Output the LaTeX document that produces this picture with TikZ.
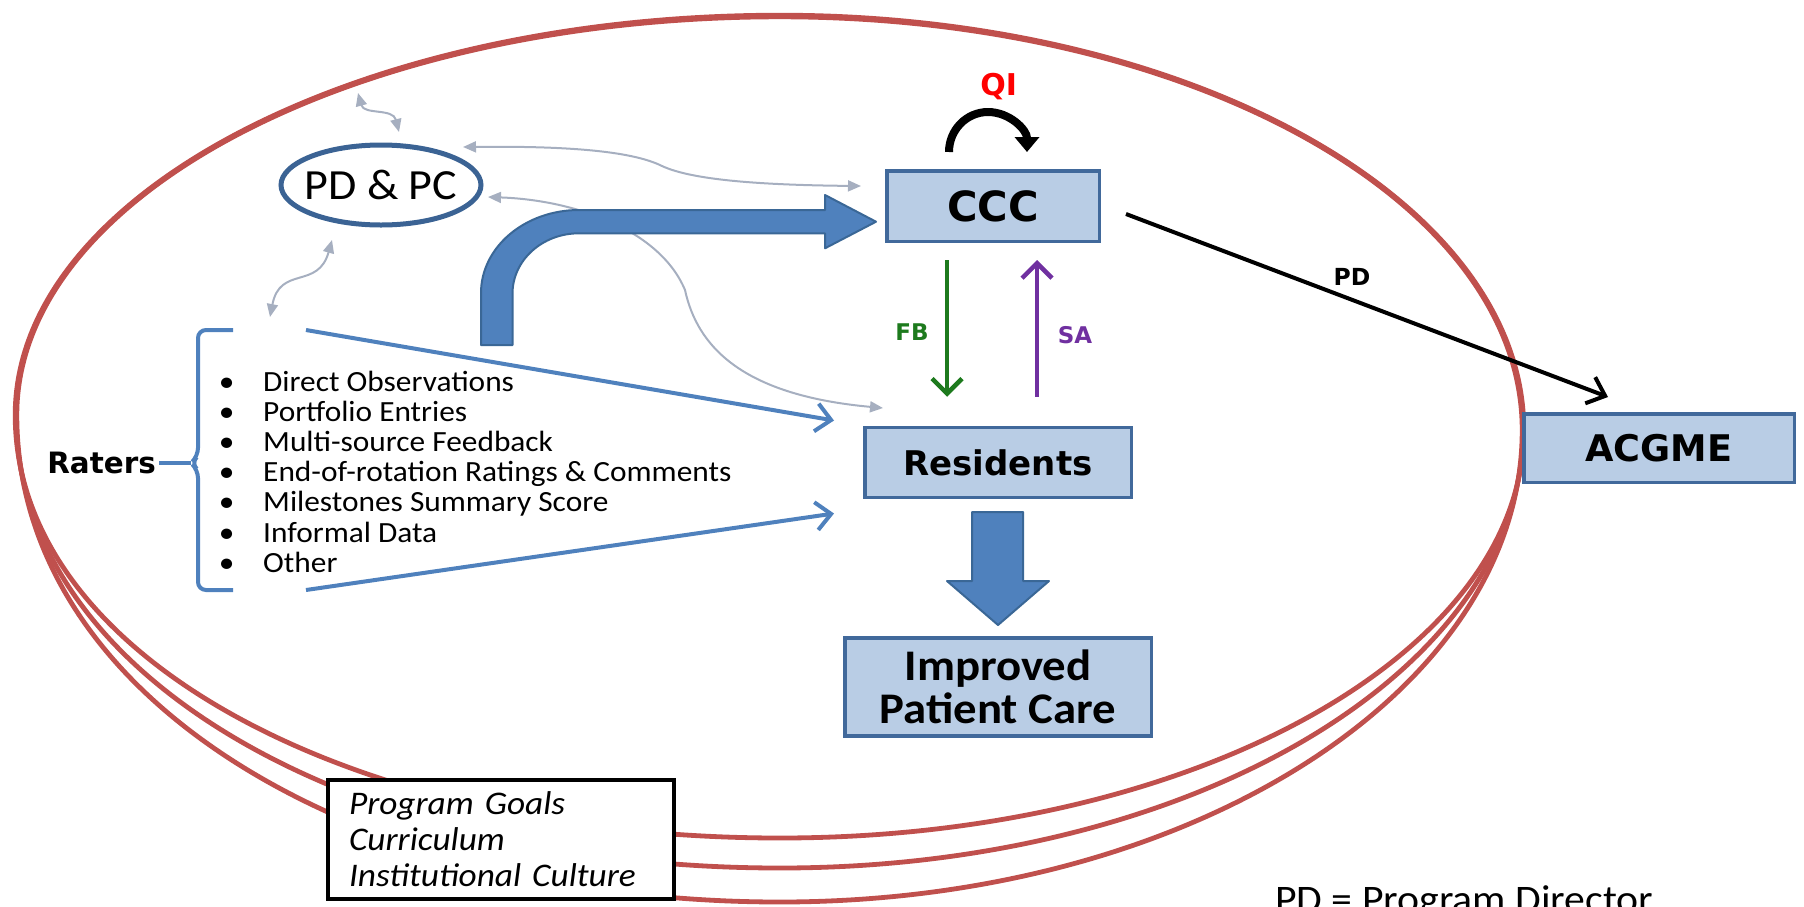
\documentclass[tikz,border=0pt]{standalone}
\usepackage{fontspec}
\setmainfont{Carlito}[FakeStretch=1.07]
\newfontfamily\vfont{DejaVu Sans}
\usetikzlibrary{arrows.meta,shapes.geometric,calc}
\definecolor{ellred}{HTML}{C0504D}
\definecolor{boxfill}{HTML}{B9CDE5}
\definecolor{boxline}{HTML}{41699B}
\definecolor{arrblue}{HTML}{4F81BD}
\definecolor{arrline}{HTML}{3A6796}
\definecolor{pdline}{HTML}{3B6394}
\definecolor{grayc}{HTML}{A6AFC0}
\definecolor{fbgreen}{HTML}{1D7A1D}
\definecolor{sapurple}{HTML}{7030A0}
\definecolor{qired}{HTML}{FF0000}
\begin{document}
\begin{tikzpicture}[x=1pt,y=-1pt,
  redell/.style={draw=ellred,line width=4.8pt},
  bluebox/.style={rectangle,draw=boxline,fill=boxfill,line width=3.5pt,inner sep=0pt,align=center},
  bigarr/.style={fill=arrblue,draw=arrline,line width=2pt,line join=round},
  grayarr/.style={draw=grayc,line width=2pt,{Triangle[length=13pt,width=11pt]}-{Triangle[length=13pt,width=11pt]}},
  thinblue/.style={draw=arrblue,line width=4pt,-{Straight Barb[length=15pt,width=28pt]}},
  brk/.style={draw=arrblue,line width=4pt,rounded corners=8pt},
  bigbold/.style={font={\vfont\bfseries\fontsize{#1}{#1}\selectfont}},
  fbarr/.style={draw=fbgreen,line width=4.5pt,-{Straight Barb[length=15pt,width=30pt]}},
  saarr/.style={draw=sapurple,line width=4.5pt,-{Straight Barb[length=15pt,width=30pt]}},
  pdarr/.style={draw=black,line width=4pt,-{Straight Barb[length=16pt,width=28pt]}},
  qiarr/.style={draw=black,line width=8pt,-{Triangle[length=15pt,width=24pt]}},
  listfont/.style={font={\fontsize{29.3}{30}\selectfont}}
]
\useasboundingbox (0,0) rectangle (1804,906);
\clip (0,0) rectangle (1804,906);

% three red ellipses
\foreach \ybot/\yr/\yl/\dd in {838/655.3/660/-0.8, 868/671.9/680/0, 902/690.7/700/0.8}{
  \draw[redell] ({16+\dd},415) .. controls ({16+\dd},194.6) and (358,{16+\dd}) .. (780,{16+\dd})
    .. controls (1190.4,{16+\dd}) and ({1523-\dd},201.3) .. ({1523-\dd},430)
    .. controls ({1523-\dd},\yr) and (1190.4,\ybot) .. (780,\ybot)
    .. controls (358,\ybot) and ({16+\dd},\yl) .. cycle;
}

% program goals box
\node[draw=black, line width=4pt, fill=white, inner xsep=21.4pt, inner ysep=0pt,
      text width=304pt, minimum height=119pt, align=left,
      font={\itshape\fontsize{33}{36}\selectfont}] (goals) at (501,839.3)
      {Program Goals\\Curriculum\\Institutional Culture};

% PD & PC
\node[ellipse, draw=pdline, line width=5pt, fill=white, minimum width=200pt,
      minimum height=80pt, inner sep=0pt, font={\fontsize{43}{43}\selectfont}] (pdpc) at (381,185)
      {\makebox[0pt]{PD \& PC}};

% boxes
\node[bluebox, minimum width=212.5pt, minimum height=70.5pt, bigbold=41.6] (ccc) at (993,206) {CCC};
\node[bluebox, minimum width=266.5pt, minimum height=70pt, bigbold=34] (res) at (998,462.5) {Residents};
\node[bluebox, minimum width=306.5pt, minimum height=98pt,
      font={\bfseries\fontsize{43.7}{43.3}\selectfont}] (ipc) at (998,687) {Improved\\Patient Care};
\node[bluebox, minimum width=270.5pt, minimum height=68.5pt, bigbold=36.7] (acgme) at (1659,448) {ACGME};

% gray connectors
\coordinate (g1a) at (358,93); \coordinate (g1b) at (399,132);
\draw[grayarr] (g1a) .. controls (364,115) and (393,108) .. (g1b);
\coordinate (g2a) at (463,147); \coordinate (g2b) at (861,186);
\draw[grayarr] (g2a) .. controls (560,146) and (630,150) .. (662,166) .. controls (692,180) and (760,185) .. (g2b);
\coordinate (g3a) at (488,197); \coordinate (g3b) at (883,408);
\draw[grayarr] (g3a) .. controls (575,200) and (660,230) .. (685,290) .. controls (697,345) and (740,395) .. (g3b);
\coordinate (g4a) at (332,240); \coordinate (g4b) at (270,317);
\draw[grayarr] (g4a) .. controls (318,290) and (280,265) .. (g4b);

% big bent arrow
\filldraw[bigarr] (481,345) -- (481,293) arc[start angle=180,end angle=270,x radius=98,y radius=83]
  -- (825,210) -- (825,195) -- (876,221.7) -- (825,248.3) -- (825,233.3) -- (579,233.3)
  arc[start angle=270,end angle=180,x radius=66.5,y radius=60.3] -- (512.5,345) -- cycle;

% down arrow
\filldraw[bigarr] (972,512) -- (1023,512) -- (1023,581) -- (1049,581) -- (998,625) -- (947,581) -- (972,581) -- cycle;

% QI loop
\node[bigbold=30, text=qired, inner sep=0pt] (qi) at (998.6,86.7) {QI};
\draw[qiarr] ($(ccc.north)+(-44,-17)$) arc[start angle=180,end angle=360,x radius=39,y radius=40];

% FB / SA
\draw[fbarr] ($(ccc.south)+(-46,17)$) -- ($(res.north)+(-51,-29)$);
\node[bigbold=23, text=fbgreen, inner sep=0pt] (fb) at (912,332) {FB};
\draw[saarr] ($(res.north)+(39,-29)$) -- ($(ccc.south)+(44,17)$);
\node[bigbold=23, text=sapurple, inner sep=0pt] (sa) at (1075,335) {SA};

% PD to ACGME
\draw[pdarr] ($(ccc.east)+(25,8)$) -- ($(acgme.north west)+(86,-15)$);
\node[bigbold=23.5, inner sep=0pt] (pdlab) at (1352,277) {PD};

% raters and bracket
\node[bigbold=29.4, anchor=east, inner sep=0pt] (raters) at (156,463) {Raters};
\coordinate (nib) at (191,463);
\draw[brk] (233,330) -- (198,330) -- (198,456) -- (nib) -- (198,470) -- (198,590) -- (233,590);
\draw[draw=arrblue, line width=4pt] ([xshift=3pt]raters.east) -- (nib);

\foreach \t [count=\i] in {Direct Observations, Portfolio Entries, Multi-source Feedback,
   End-of-rotation Ratings \& Comments, Milestones Summary Score, Informal Data, Other}{
  \node[listfont, anchor=base west, inner sep=0pt] (item\i) at (263,{391+30.2*(\i-1)}) {\t};
  \node[listfont, anchor=base, inner sep=0pt] (dot\i) at (226.6,{391+30.2*(\i-1)}) {\textbullet};
}

% thin blue arrows
\coordinate (t1) at (306,330); \coordinate (t2) at (306,590);
\draw[thinblue] (t1) -- ($(res.west)+(-29,-42)$);
\draw[thinblue] (t2) -- ($(res.west)+(-29,51)$);

% legend
\node[anchor=base west, inner sep=0pt, font={\fontsize{39}{40}\selectfont}] (legend) at (1275,912) {PD = Program Director};
\end{tikzpicture}
\end{document}
